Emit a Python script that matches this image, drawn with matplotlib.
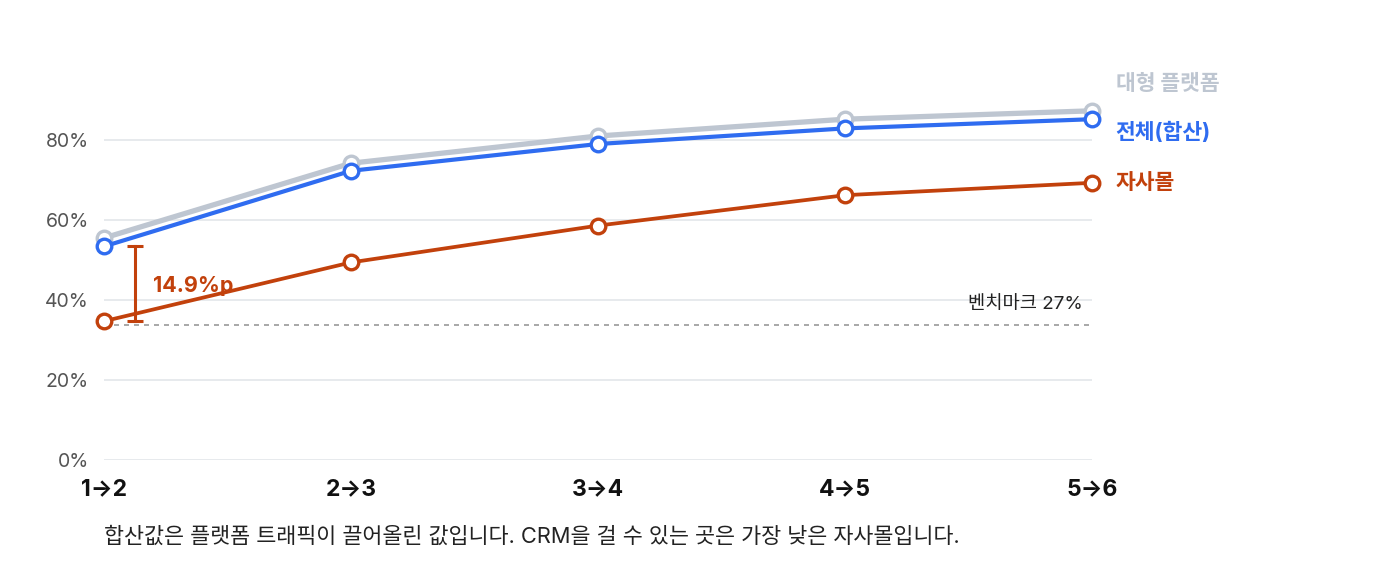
import matplotlib
matplotlib.use("Agg")
import matplotlib.pyplot as plt

plt.rcParams['font.family'] = ['Inter', 'Noto Sans CJK KR', 'DejaVu Sans']
KOREAN = ['Noto Sans CJK KR', 'DejaVu Sans']

# data
steps = ["1→2", "2→3", "3→4", "4→5", "5→6"]
platform = [55.5, 74.2, 81.0, 85.2, 87.3]
total = [53.4, 72.3, 79.0, 82.9, 85.2]
own_mall = [34.7, 49.4, 58.6, 66.2, 69.3]
bench_y = 33.75
bench_label = "벤치마크 27%"
gap_label = "14.9%p"
yticks = [0, 20, 40, 60, 80]
caption = "합산값은 플랫폼 트래픽이 끌어올린 값입니다. CRM을 걸 수 있는 곳은 가장 낮은 자사몰입니다."

GRAY = "#bec6d1"
BLUE = "#2f6cf0"
ORANGE = "#c2410c"

fig = plt.figure(figsize=(14, 5.74), dpi=100)
ax = fig.add_axes([104 / 1400, (574 - 460) / 574, (1092 - 104) / 1400, 360 / 574])

x = list(range(len(steps)))

for yv in yticks:
    ax.axhline(yv, color="#e3e6ea", lw=1.2, zorder=0)

ax.plot([0, 4], [bench_y, bench_y], ls=(0, (3, 3)), color="#999999", lw=1.2, zorder=1)
ax.text(3.962, bench_y + 5.2, bench_label, ha="right", va="center", fontsize=13.5, color="#222222")

series = [(platform, GRAY, 3.8, 2), (total, BLUE, 3.0, 4), (own_mall, ORANGE, 2.7, 3)]
for vals, col, lw, z in series:
    ax.plot(x, vals, color=col, lw=lw, marker="o", markersize=10.5, markerfacecolor="white",
            markeredgecolor=col, markeredgewidth=2.4, zorder=z, clip_on=False)

# gap bracket at the first step
gx = 0.125
ax.plot([gx, gx], [own_mall[0], total[0]], color=ORANGE, lw=2.2, zorder=3)
ax.plot([gx, gx], [own_mall[0], total[0]], ls="none", marker="_", markersize=12,
        markeredgewidth=2.2, color=ORANGE, zorder=3)
ax.text(gx + 0.075, 43.5, gap_label, ha="left", va="center", fontsize=15.5,
        fontweight="bold", color=ORANGE)

# end labels
ax.text(4.096, 94.0, "대형 플랫폼", ha="left", va="center", fontsize=15.5, fontweight="bold",
        color=GRAY, family=KOREAN)
ax.text(4.096, 82.0, "전체(합산)", ha="left", va="center", fontsize=15.5, fontweight="bold", color=BLUE)
ax.text(4.096, 69.3, "자사몰", ha="left", va="center", fontsize=15.5, fontweight="bold",
        color=ORANGE, family=KOREAN)

ax.set_xlim(0, 4)
ax.set_ylim(0, 90)
ax.set_xticks(x)
ax.set_xticklabels(steps, fontsize=16.5, fontweight="bold", color="#111111")
ax.set_yticks(yticks)
ax.set_yticklabels([f"{v}%" for v in yticks], fontsize=14, color="#555555")
ax.tick_params(axis="both", length=0)
ax.tick_params(axis="y", pad=11)
ax.tick_params(axis="x", pad=13)
for s in ax.spines.values():
    s.set_visible(False)

fig.text(104 / 1400, 1 - 537 / 574, caption, ha="left", va="center", fontsize=15.7, color="#222222")

fig.savefig("out.png", dpi=100)
